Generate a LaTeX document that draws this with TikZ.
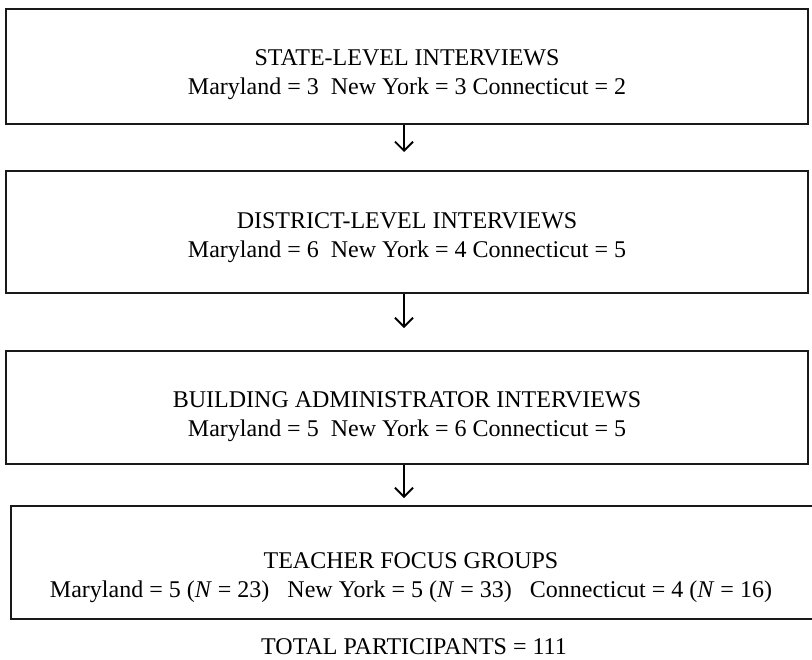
\documentclass[tikz,border=0pt]{standalone}
\usepackage{fontspec}
\setmainfont{Liberation Serif}
\usepackage{tikz}
\usetikzlibrary{
    arrows.meta,
    calc,
    positioning
}

\begin{document}
\begin{tikzpicture}[x=0.5pt, y=-0.5pt,
    stagebox/.style={draw=black!90, line width=0.9pt, minimum width=401pt, inner sep=0pt},
    stagetext/.style={align=center, font=\fontsize{12}{14.6}\selectfont, inner sep=0pt},
    flow/.style={line width=0.9pt, -{Straight Barb[length=4.5pt, width=9pt]}}]
    \useasboundingbox (0, 0) rectangle (812, 659);

    % the four stages
    \node[stagebox, minimum height=57.5pt] (state) at (407, 66.5) {};
    \node[stagebox, minimum height=61pt] (district) at (407, 232) {};
    \node[stagebox, minimum height=56.5pt] (building) at (407, 407.5) {};
    \node[stagebox, minimum width=405.5pt, minimum height=56.5pt] (teacher) at (416.5, 562.5) {};

    \node[stagetext] (statetxt) at (407, 75)
        {STATE-LEVEL INTERVIEWS\\Maryland = 3\ \ New York = 3 Connecticut = 2};
    \node[stagetext] (districttxt) at (407, 238)
        {DISTRICT-LEVEL INTERVIEWS\\Maryland = 6\ \ New York = 4 Connecticut = 5};
    \node[stagetext] (buildingtxt) at (407, 417)
        {BUILDING ADMINISTRATOR INTERVIEWS\\Maryland = 5\ \ New York = 6 Connecticut = 5};
    \node[stagetext] (teachertxt) at (411, 578)
        {TEACHER FOCUS GROUPS\\Maryland = 5 (\textit{N} = 23)\ \ \ New York = 5 (\textit{N} = 33)\ \ \ Connecticut = 4 (\textit{N} = 16)};

    \node[stagetext] (total) at (414, 646.5) {TOTAL PARTICIPANTS = 111};

    % arrows between stages
    \coordinate (a1) at (404, 152);
    \coordinate (a2) at (404, 328);
    \coordinate (a3) at (404, 498);
    \draw[flow] (state.south -| a1) -- (a1);
    \draw[flow] (district.south -| a2) -- (a2);
    \draw[flow] (building.south -| a3) -- (a3);
\end{tikzpicture}
\end{document}
